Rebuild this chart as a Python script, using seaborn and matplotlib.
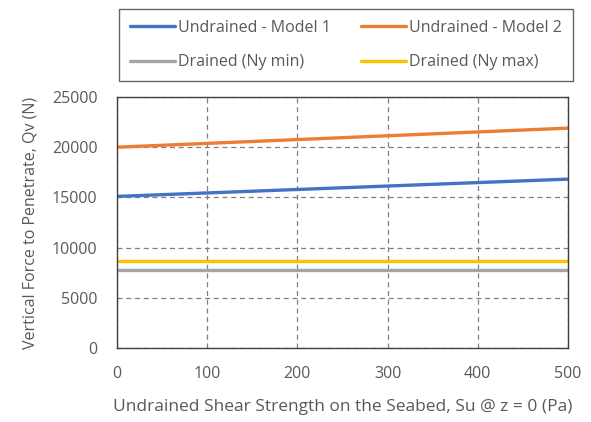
import matplotlib
matplotlib.use("Agg")
import matplotlib.pyplot as plt
import seaborn as sns
import pandas as pd

su = [0, 500]
model1 = [15100, 16820]
model2 = [20000, 21900]
drained_min = [7780, 7780]
drained_max = [8660, 8660]
series_names = ["Undrained - Model 1", "Undrained - Model 2", "Drained (Ny min)", "Drained (Ny max)"]
colors = ["#4472C4", "#ED7D31", "#A5A5A5", "#FFC000"]
xticks = [0, 100, 200, 300, 400, 500]
yticks = [0, 5000, 10000, 15000, 20000, 25000]

rows = []
for name, vals in zip(series_names, [model1, model2, drained_min, drained_max]):
    for x, v in zip(su, vals):
        rows.append({"Su": x, "Qv": v, "Series": name})
df = pd.DataFrame(rows)

sns.set_style("white")
plt.rcParams["font.family"] = ["Open Sans", "DejaVu Sans"]
txt = "#595959"
fs = 11.5

fig = plt.figure(figsize=(5.91, 4.22), dpi=100)
ax = fig.add_axes([117/591, 1-348/422, (568-117)/591, (348-97)/422])
sns.lineplot(data=df, x="Su", y="Qv", hue="Series", hue_order=series_names,
             palette=colors, linewidth=2.4, ax=ax, legend=False)
ax.set_xlim(0, 500)
ax.set_ylim(0, 25000)
ax.set_xticks(xticks)
ax.set_yticks(yticks)
ax.tick_params(colors=txt, labelsize=fs, length=0)
ax.tick_params(axis="x", pad=13)
ax.tick_params(axis="y", pad=14)
ax.grid(True, linestyle=(0, (4, 3)), color="#7f7f7f", linewidth=0.9)
ax.set_axisbelow(True)
for s in ax.spines.values():
    s.set_color("#404040")
    s.set_linewidth(1.0)
ax.set_xlabel("Undrained Shear Strength on the Seabed, Su @ z = 0 (Pa)", color=txt, fontsize=12.5, labelpad=12)
ax.set_ylabel("Vertical Force to Penetrate, Qv (N)", color=txt, fontsize=fs, labelpad=10)

handles = [plt.Line2D([], [], color=c, linewidth=2.4) for c in colors]
order = [0, 2, 1, 3]
leg = fig.legend([handles[i] for i in order], [series_names[i] for i in order],
                 ncol=2, loc="upper left", bbox_to_anchor=(119/591, 1-9/422),
                 frameon=True, fancybox=False, fontsize=11.5, handlelength=2.8,
                 handletextpad=0.2, columnspacing=1.9, labelspacing=1.15,
                 borderpad=0.68, borderaxespad=0)
leg.get_frame().set_edgecolor("#404040")
leg.get_frame().set_linewidth(1.0)
for t in leg.get_texts():
    t.set_color(txt)

fig.savefig("out.png", dpi=100)
